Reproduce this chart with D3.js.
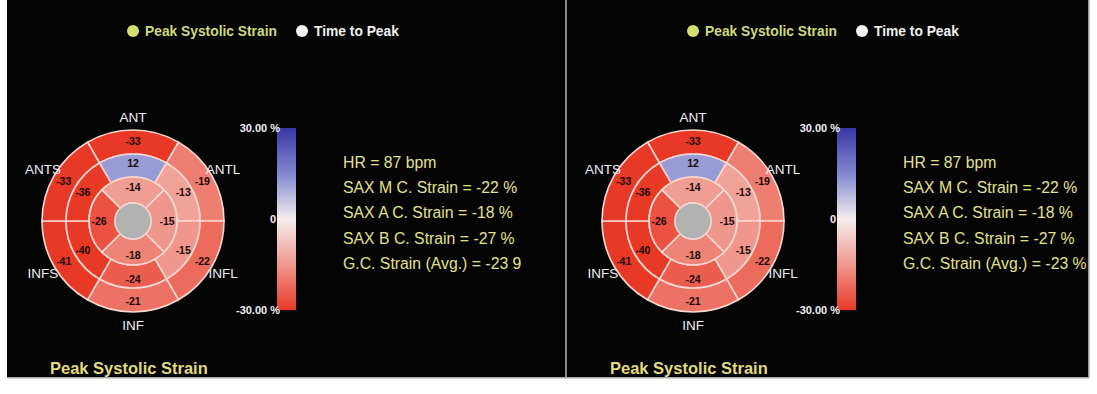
<!DOCTYPE html>
<html>
<head>
<meta charset="utf-8">
<script src="https://cdn.jsdelivr.net/npm/d3@7"></script>
<style>
  html, body { margin: 0; padding: 0; background: #ffffff; }
  svg { display: block; font-family: "Liberation Sans", Arial, sans-serif; }
</style>
</head>
<body>
<svg id="chart" width="1097" height="394"></svg>
<script>
// Wall names of the six basal / mid segments, clockwise from 12 o'clock
const walls = ["ANT", "ANTL", "INFL", "INF", "INFS", "ANTS"];
// Peak systolic circumferential strain (%) per ring, same clockwise order
const basalStrain = [-33, -19, -22, -21, -41, -33];
const midStrain   = [12, -13, -15, -24, -40, -36];
// Apical ring: anterior, lateral, inferior, septal
const apicalStrain = [-14, -15, -18, -26];

// Colour bar limits and tick labels
const barDomain = [-30, 30];
const barTicks = [
  { v: 30, label: "30.00 %" },
  { v: 0, label: "0" },
  { v: -30, label: "-30.00 %" }
];

const legendItems = [
  { label: "Peak Systolic Strain", dot: "#d6df72", text: "#cfd97a" },
  { label: "Time to Peak", dot: "#f4f4f4", text: "#f0f0f0" }
];

const statsLeft = [
  "HR = 87 bpm",
  "SAX M C. Strain = -22 %",
  "SAX A C. Strain = -18 %",
  "SAX B C. Strain = -27 %",
  "G.C. Strain (Avg.) = -23 9"
];
const statsRight = [
  "HR = 87 bpm",
  "SAX M C. Strain = -22 %",
  "SAX A C. Strain = -18 %",
  "SAX B C. Strain = -27 %",
  "G.C. Strain (Avg.) = -23 %"
];

const panelTitle = "Peak Systolic Strain";

// Diverging strain colour map: red (shortening) -> white -> blue (lengthening)
const strainColor = d3.scaleLinear()
  .domain([-30, -15, 0, 15, 30])
  .range(["#e83826", "#f0978d", "#f5eef0", "#8286cf", "#3a37a6"])
  .clamp(true);

const svg = d3.select("#chart");
const defs = svg.append("defs");
const grad = defs.append("linearGradient")
  .attr("id", "strainGrad").attr("x1", 0).attr("y1", 0).attr("x2", 0).attr("y2", 1);
d3.range(0, 1.0001, 0.05).forEach(t => {
  grad.append("stop")
    .attr("offset", t)
    .attr("stop-color", strainColor(barDomain[1] - t * (barDomain[1] - barDomain[0])));
});

// Panel backgrounds
svg.append("rect").attr("x", 7).attr("y", 0).attr("width", 558).attr("height", 377).attr("fill", "#040405");
svg.append("rect").attr("x", 567).attr("y", 0).attr("width", 521).attr("height", 377).attr("fill", "#040405");
svg.append("rect").attr("x", 565).attr("y", 0).attr("width", 2).attr("height", 378).attr("fill", "#8a8a8a");
svg.append("rect").attr("x", 1088).attr("y", 0).attr("width", 1.5).attr("height", 378).attr("fill", "#9a9a9a");
svg.append("rect").attr("x", 7).attr("y", 377).attr("width", 1082).attr("height", 1.5).attr("fill", "#a8a8a8");

function drawPanel(offsetX, stats) {
  const g = svg.append("g").attr("transform", `translate(${offsetX},0)`);

  // Legend
  const leg = g.append("g");
  const legX = [133, 302];
  legendItems.forEach((it, i) => {
    leg.append("circle").attr("cx", legX[i]).attr("cy", 31).attr("r", 6)
      .attr("fill", it.dot);
    leg.append("text").attr("x", legX[i] + 12).attr("y", 36)
      .attr("font-size", 13.8).attr("font-weight", "bold")
      .attr("fill", it.text).text(it.label);
  });

  // Bullseye
  const cx = 133, cy = 221;
  const R = [91, 67, 44, 18];
  const bull = g.append("g").attr("transform", `translate(${cx},${cy})`);
  const arc = d3.arc();
  const deg = Math.PI / 180;

  function ring(values, n, rOuter, rInner, labelR) {
    const step = 360 / n;
    values.forEach((v, i) => {
      const a0 = (i * step - step / 2) * deg;
      const a1 = (i * step + step / 2) * deg;
      bull.append("path")
        .attr("d", arc({ innerRadius: rInner, outerRadius: rOuter, startAngle: a0, endAngle: a1 }))
        .attr("fill", strainColor(v))
        .attr("stroke", "#f6d8d0").attr("stroke-width", 1.6);
      const am = i * step * deg;
      bull.append("text")
        .attr("x", labelR * Math.sin(am)).attr("y", -labelR * Math.cos(am))
        .attr("dy", "0.35em").attr("text-anchor", "middle")
        .attr("font-size", 10.5).attr("font-weight", "bold")
        .attr("fill", "#1c0a08").text(v);
    });
  }
  ring(basalStrain, 6, R[0], R[1], 80);
  ring(midStrain, 6, R[1], R[2], 58);
  ring(apicalStrain, 4, R[2], R[3], 34);
  bull.append("circle").attr("r", R[3]).attr("fill", "#b2b2b2")
    .attr("stroke", "#f2d8d2").attr("stroke-width", 1.4);

  // Wall labels
  walls.forEach((w, i) => {
    const a = i * 60 * deg;
    bull.append("text")
      .attr("x", 104 * Math.sin(a)).attr("y", -104 * Math.cos(a))
      .attr("dy", "0.35em").attr("text-anchor", "middle")
      .attr("font-size", 13.5).attr("fill", "#eeeef4").text(w);
  });

  // Colour bar
  const barY = d3.scaleLinear().domain(barDomain).range([310, 128]);
  g.append("rect").attr("x", 277).attr("y", barY(30)).attr("width", 19)
    .attr("height", barY(-30) - barY(30)).attr("fill", "url(#strainGrad)");
  barTicks.forEach(t => {
    g.append("text").attr("x", t.v === 0 ? 276 : 280).attr("y", barY(t.v))
      .attr("dy", "0.35em").attr("text-anchor", "end")
      .attr("font-size", 11).attr("font-weight", "bold")
      .attr("fill", "#f0f0f0").text(t.label);
  });

  // Summary statistics
  stats.forEach((s, i) => {
    g.append("text").attr("x", 343).attr("y", 168 + i * 25.2)
      .attr("font-size", 15.8).attr("fill", "#e2e28c").text(s);
  });

  // Panel title
  g.append("text").attr("x", 50).attr("y", 374)
    .attr("font-size", 16.5).attr("font-weight", "bold")
    .attr("fill", "#e2dc7c").text(panelTitle);
}

drawPanel(0, statsLeft);
drawPanel(560, statsRight);
</script>
</body>
</html>
